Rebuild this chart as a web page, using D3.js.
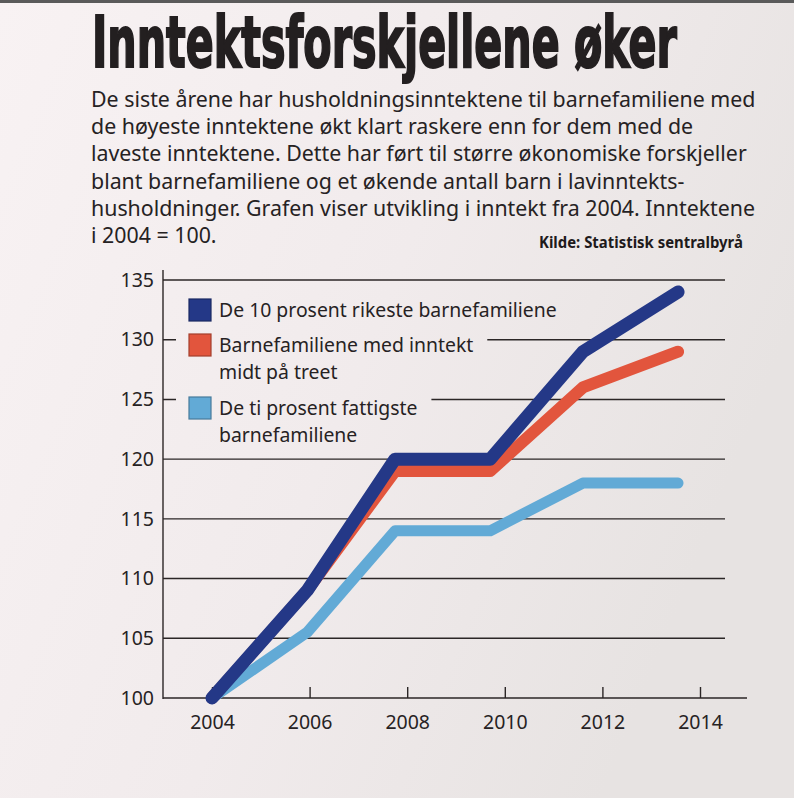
<!DOCTYPE html>
<html>
<head>
<meta charset="utf-8">
<script src="https://cdn.jsdelivr.net/npm/d3@7"></script>
<style>
  html, body { margin: 0; padding: 0; background: #f2eded; }
  svg { display: block; }
</style>
</head>
<body>
<svg id="chart" width="794" height="798"></svg>
<script>
// ---------- data ----------
const years = [2004, 2005.95, 2007.75, 2009.7, 2011.6, 2013.55];
const richest = [100, 109, 120, 120, 129, 134];
const middle = [100, 109, 119, 119, 126, 129];
const poorest = [100, 105.5, 114, 114, 118, 118];
const yTicks = [100, 105, 110, 115, 120, 125, 130, 135];
const xTicks = [2004, 2006, 2008, 2010, 2012, 2014];
const seriesNames = [
  ["De 10 prosent rikeste barnefamiliene"],
  ["Barnefamiliene med inntekt", "midt på treet"],
  ["De ti prosent fattigste", "barnefamiliene"]
];
const title = "Inntektsforskjellene øker";
const bodyLines = [
  "De siste årene har husholdningsinntektene til barnefamiliene med",
  "de høyeste inntektene økt klart raskere enn for dem med de",
  "laveste inntektene. Dette har ført til større økonomiske forskjeller",
  "blant barnefamiliene og et økende antall barn i lavinntekts-",
  "husholdninger. Grafen viser utvikling i inntekt fra 2004. Inntektene",
  "i 2004 = 100."
];
const source = "Kilde: Statistisk sentralbyrå";

// ---------- setup ----------
const svg = d3.select("#chart");
const W = 794, H = 798;
const colors = ["#243887", "#e2553d", "#62aad6"];
const widths = [13, 12, 11];
const ink = "#262223";

const defs = svg.append("defs");
const grad = defs.append("linearGradient").attr("id", "paper")
  .attr("gradientUnits", "userSpaceOnUse")
  .attr("x1", 0).attr("y1", 0).attr("x2", W).attr("y2", H * 0.4);
grad.append("stop").attr("offset", "0%").attr("stop-color", "#f8f2f3");
grad.append("stop").attr("offset", "55%").attr("stop-color", "#f1ebec");
grad.append("stop").attr("offset", "100%").attr("stop-color", "#e7e3e2");

svg.append("rect").attr("width", W).attr("height", H).attr("fill", "url(#paper)");
svg.append("rect").attr("width", W).attr("height", 3).attr("fill", "#5a5a5a");

// horizontally fit a text group to a target width (anchored at its left x)
function fitGroup(g, textNode, targetW, x0) {
  const w = textNode.getComputedTextLength();
  g.attr("transform", `translate(${x0},0) scale(${targetW / w},1)`);
  return targetW / w;
}

// ---------- title ----------
const tg0 = svg.append("g");
const titleText = tg0.append("text")
  .attr("x", 0).attr("y", 67)
  .attr("font-family", "'DejaVu Sans Condensed', 'DejaVu Sans', sans-serif")
  .attr("font-weight", "bold")
  .attr("font-size", 71)
  .attr("fill", "#231f20")
  .attr("stroke", "#231f20").attr("stroke-width", 2)
  .text(title);
fitGroup(tg0, titleText.node(), 585, 92);

// ---------- body text ----------
const body = svg.append("g");
const bodyText = body.selectAll("text").data(bodyLines).join("text")
  .attr("x", 0).attr("y", (d, i) => 107 + i * 27.2)
  .attr("font-family", "'Noto Sans', sans-serif")
  .attr("font-size", 22.5)
  .attr("fill", ink)
  .text(d => d);
fitGroup(body, bodyText.nodes()[0], 665, 91);

const sg = svg.append("g");
const srcText = sg.append("text")
  .attr("x", 0).attr("y", 248)
  .attr("font-family", "'Noto Sans', sans-serif")
  .attr("font-weight", "bold")
  .attr("font-size", 16)
  .attr("fill", "#1e1a1b")
  .text(source);
fitGroup(sg, srcText.node(), 204, 539);

// ---------- scales ----------
const x = d3.scaleLinear().domain([2004, 2014]).range([212, 700]);
const y = d3.scaleLinear().domain([100, 135]).range([698, 280]);
const axisX0 = 163;

// gridlines
svg.append("g").selectAll("line").data(yTicks.filter(t => t > 100)).join("line")
  .attr("x1", axisX0).attr("x2", 725)
  .attr("y1", d => y(d)).attr("y2", d => y(d))
  .attr("stroke", "#2b2626").attr("stroke-width", 1.4);

// y axis
const yAxis = svg.append("g").attr("transform", `translate(${axisX0},0)`)
  .call(d3.axisLeft(y).tickValues(yTicks).tickSize(0).tickPadding(9));
yAxis.select(".domain").remove();
yAxis.selectAll("text")
  .attr("font-family", "'Noto Sans', sans-serif")
  .attr("font-size", 19.5).attr("fill", ink);
svg.append("line").attr("x1", axisX0).attr("x2", axisX0)
  .attr("y1", 270).attr("y2", 699)
  .attr("stroke", "#2b2626").attr("stroke-width", 1.4);

// x axis
const xAxis = svg.append("g").attr("transform", `translate(0,${y(100)})`)
  .call(d3.axisBottom(x).tickValues(xTicks).tickFormat(d3.format("d"))
    .tickSizeInner(-11).tickSizeOuter(0).tickPadding(17));
xAxis.select(".domain").remove();
xAxis.selectAll(".tick line").attr("stroke", "#2b2626").attr("stroke-width", 1.4);
xAxis.selectAll("text")
  .attr("font-family", "'Noto Sans', sans-serif")
  .attr("font-size", 19.5).attr("fill", ink);
svg.append("line").attr("x1", axisX0).attr("x2", 747)
  .attr("y1", y(100)).attr("y2", y(100))
  .attr("stroke", "#2b2626").attr("stroke-width", 1.4);

// ---------- legend ----------
const legend = svg.append("g");
const itemTop = [299, 334, 397];
const lineH = 27;
const items = [];
seriesNames.forEach((lines, i) => {
  const g = legend.append("g");
  const mask = g.append("rect").attr("fill", "url(#paper)");
  g.append("rect")
    .attr("x", 189).attr("y", itemTop[i]).attr("width", 22).attr("height", 22)
    .attr("fill", colors[i])
    .attr("stroke", d3.color(colors[i]).darker(0.9)).attr("stroke-width", 1.2);
  const tg = g.append("g");
  const texts = tg.selectAll("text").data(lines).join("text")
    .attr("x", 0).attr("y", (d, j) => itemTop[i] + 18 + j * lineH)
    .attr("font-family", "'Noto Sans', sans-serif")
    .attr("font-size", 20)
    .attr("fill", ink)
    .text(d => d);
  items.push({ tg, texts, mask, n: lines.length });
});
const ls = 338 / items[0].texts.nodes()[0].getComputedTextLength();
items.forEach((it, i) => {
  it.tg.attr("transform", `translate(219,0) scale(${ls},1)`);
  const maxW = d3.max(it.texts.nodes(), n => n.getComputedTextLength()) * ls;
  it.mask.attr("x", 176).attr("y", itemTop[i] - 3)
    .attr("width", 219 + maxW + 14 - 176)
    .attr("height", (it.n - 1) * lineH + 30);
});

// ---------- lines ----------
const series = [poorest, middle, richest];
const seriesIdx = [2, 1, 0];
const line = d3.line().x(d => x(d[0])).y(d => y(d[1]));
svg.append("g").selectAll("path").data(series).join("path")
  .attr("d", vals => line(years.map((yr, k) => [yr, vals[k]])))
  .attr("fill", "none")
  .attr("stroke", (d, k) => colors[seriesIdx[k]])
  .attr("stroke-width", (d, k) => widths[seriesIdx[k]])
  .attr("stroke-linecap", "round")
  .attr("stroke-linejoin", "round");
</script>
</body>
</html>
